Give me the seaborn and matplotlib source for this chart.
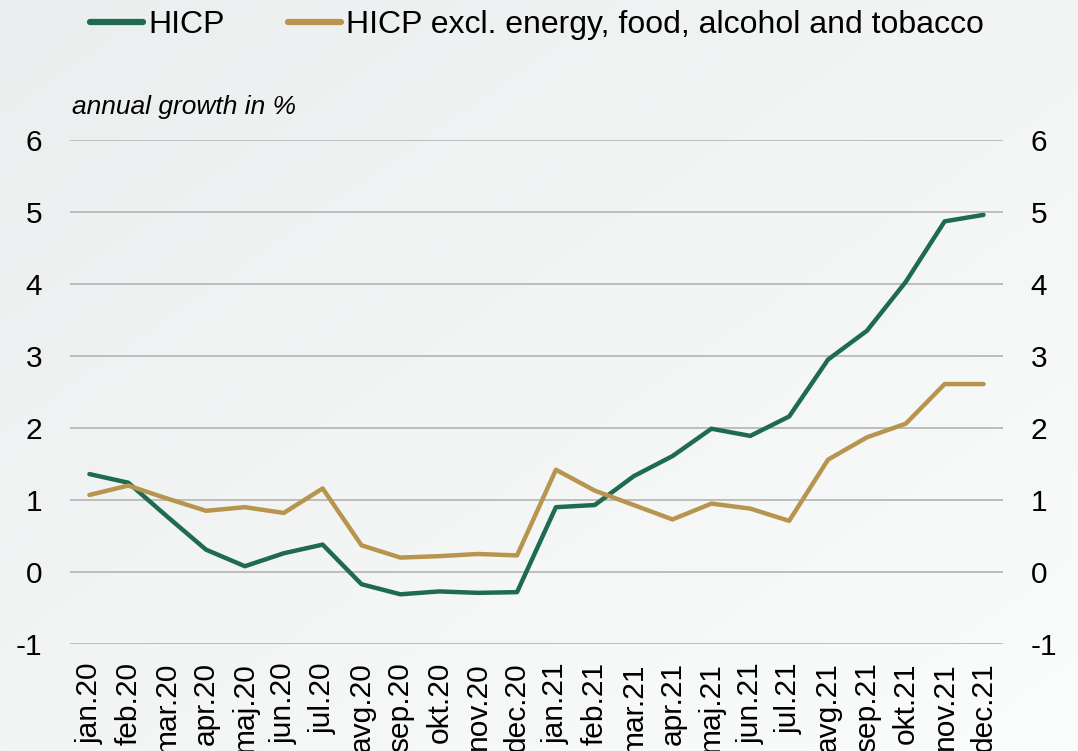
import matplotlib
matplotlib.use("Agg")
import matplotlib.pyplot as plt
import seaborn as sns
import numpy as np
import pandas as pd

# data
months = ["jan.20", "feb.20", "mar.20", "apr.20", "maj.20", "jun.20",
          "jul.20", "avg.20", "sep.20", "okt.20", "nov.20", "dec.20",
          "jan.21", "feb.21", "mar.21", "apr.21", "maj.21", "jun.21",
          "jul.21", "avg.21", "sep.21", "okt.21", "nov.21", "dec.21"]
hicp = [1.36, 1.24, 0.77, 0.31, 0.08, 0.26, 0.38, -0.17, -0.31, -0.27, -0.29, -0.28,
        0.90, 0.93, 1.33, 1.61, 1.99, 1.89, 2.16, 2.95, 3.35, 4.03, 4.87, 4.96]
core = [1.07, 1.20, 1.02, 0.85, 0.90, 0.82, 1.16, 0.37, 0.20, 0.22, 0.25, 0.23,
        1.42, 1.13, 0.93, 0.73, 0.95, 0.88, 0.71, 1.56, 1.87, 2.06, 2.61, 2.61]
series_names = ["HICP", "HICP excl. energy, food, alcohol and tobacco"]
colors = ["#1f6b50", "#b8954f"]
yticks = [-1, 0, 1, 2, 3, 4, 5, 6]

df = pd.DataFrame({
    "pos": list(range(len(months))) * 2,
    "value": hicp + core,
    "series": [series_names[0]] * len(months) + [series_names[1]] * len(months),
})

sns.set_style("white")
plt.rcParams["font.family"] = ["Liberation Sans", "DejaVu Sans"]
plt.rcParams["axes.unicode_minus"] = False
plt.rcParams["text.color"] = "black"
plt.rcParams["xtick.color"] = "black"
plt.rcParams["ytick.color"] = "black"

fig = plt.figure(figsize=(10.78, 7.51), dpi=100)

# soft diagonal background gradient
bg = fig.add_axes([0, 0, 1, 1], zorder=-10)
gx, gy = np.meshgrid(np.linspace(0, 1, 200), np.linspace(0, 1, 200))
grad = (gx + gy) / 2
bg.imshow(grad, cmap=matplotlib.colors.LinearSegmentedColormap.from_list(
    "bg", ["#ebeeee", "#fbfcfc"]), aspect="auto", extent=[0, 1, 0, 1], origin="upper")
bg.axis("off")

ax = fig.add_axes([0.0649, 0.1425, 0.8655, 0.6711])
ax.set_facecolor("none")

sns.lineplot(data=df, x="pos", y="value", hue="series", palette=colors,
             linewidth=3.2, ax=ax, legend=False)

ax.set_xlim(-0.5, len(months) - 0.5)
ax.set_ylim(-1, 6)
ax.set_yticks(yticks)
ax.set_xticks(range(len(months)))
ax.set_xticklabels(months, rotation=90, fontsize=21.5, va="top")
ax.tick_params(axis="x", length=0, pad=13)
ax.tick_params(axis="y", length=0, labelsize=21.5, labelright=True, right=False)
ax.grid(axis="y", color="#bdbdbd", linewidth=1.4)
ax.grid(axis="x", visible=False)
for sp in ax.spines.values():
    sp.set_visible(False)
ax.set_xlabel("")
ax.set_ylabel("")

for tick in ax.yaxis.get_major_ticks():
    tick.set_pad(20)
    tick.label2.set_horizontalalignment("left")

fig.text(0.067, 0.858, "annual growth in %", fontsize=19, style="italic",
         va="center", ha="left")

handles = [plt.Line2D([], [], color=c, linewidth=4.5, solid_capstyle="round")
           for c in colors]
fig.legend(handles, series_names, loc="center left", bbox_to_anchor=(0.072, 0.967),
           ncol=2, frameon=False, fontsize=23, handlelength=1.65, handletextpad=0.15,
           columnspacing=2.0, borderaxespad=0)

fig.savefig("out.png", dpi=100)
